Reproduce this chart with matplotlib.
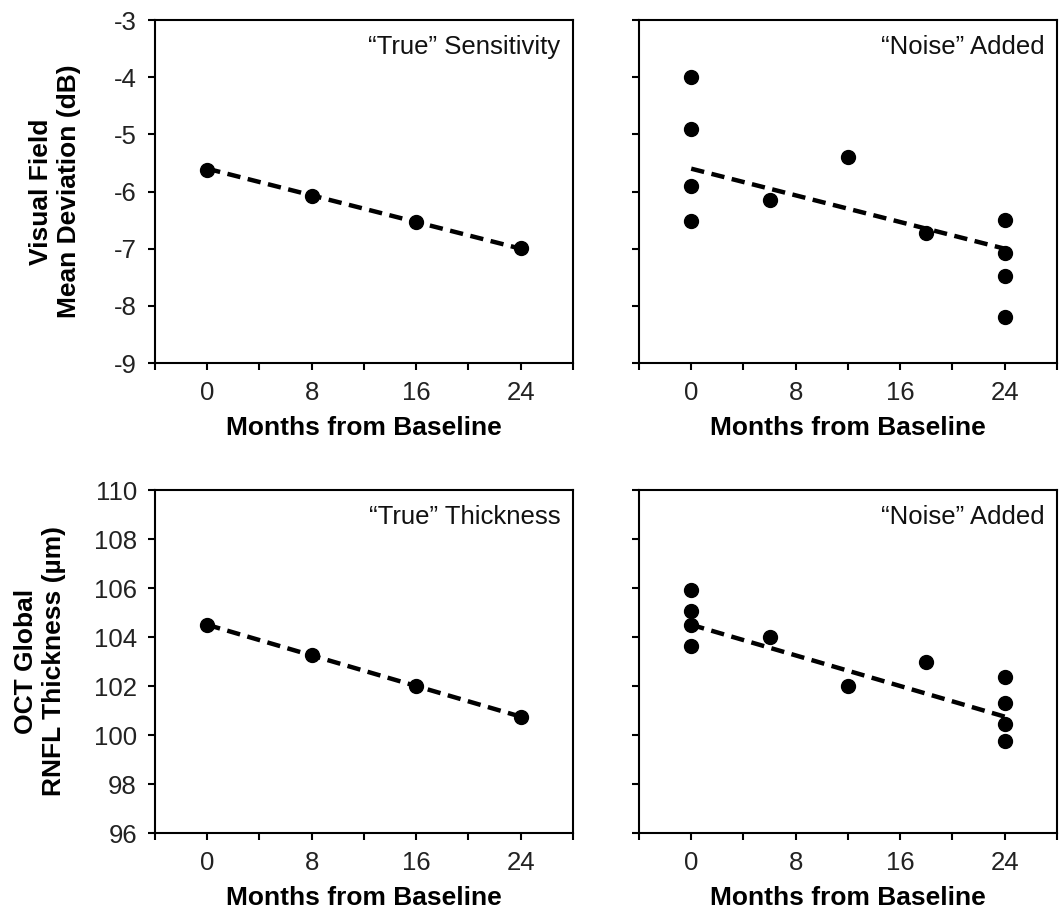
import numpy as np
import matplotlib
matplotlib.use('Agg')
import matplotlib.pyplot as plt

plt.rcParams['font.family'] = ['Liberation Sans', 'DejaVu Sans']
plt.rcParams['axes.unicode_minus'] = False

# --- data ---
true_months = [0, 8, 16, 24]
vf_true = [-5.62, -6.08, -6.53, -6.98]
rnfl_true = [104.5, 103.25, 102.0, 100.75]

noise_months = [0, 0, 0, 0, 6, 12, 18, 24, 24, 24, 24]
vf_noise = [-4.0, -4.9, -5.9, -6.52, -6.15, -5.4, -6.72, -6.5, -7.07, -7.48, -8.2]
rnfl_noise = [105.9, 105.05, 104.5, 103.62, 104.0, 102.0, 103.0, 102.35, 101.3, 100.47, 99.75]

trend_months = [0, 24]
vf_trend = [-5.6, -7.0]
rnfl_trend = [104.5, 100.75]

x_ticks = [-4, 0, 4, 8, 12, 16, 20, 24, 28]
x_labels = ['', '0', '', '8', '', '16', '', '24', '']
vf_ticks = [-3, -4, -5, -6, -7, -8, -9]
rnfl_ticks = [96, 98, 100, 102, 104, 106, 108, 110]

vf_ylabel = 'Visual Field\nMean Deviation (dB)'
rnfl_ylabel = 'OCT Global\nRNFL Thickness (µm)'
xlabel = 'Months from Baseline'


def style_axes(ax, yticks, ylim, show_ylabels):
    ax.set_xlim(-4, 28)
    ax.set_ylim(*ylim)
    ax.set_xticks(x_ticks)
    ax.set_xticklabels(x_labels)
    ax.set_yticks(yticks)
    if not show_ylabels:
        ax.set_yticklabels([])
    ax.tick_params(direction='out', length=5, width=1.5, labelsize=18.5, pad=8,
                   top=False, right=False, labelcolor='#222222')
    for sp in ax.spines.values():
        sp.set_linewidth(1.5)
    ax.set_xlabel(xlabel, fontsize=19, fontweight='bold', labelpad=8)


def draw(ax, xs, ys, tx, ty, label):
    ax.plot(tx, ty, color='black', lw=3.2, linestyle=(0, (3.0, 1.7)), zorder=2)
    ax.plot(xs, ys, 'o', color='black', markersize=10, zorder=3)
    ax.text(0.97, 0.955, label, transform=ax.transAxes, ha='right', va='top',
            fontsize=18.5, color='#111111')


fig = plt.figure(figsize=(10.6, 9.11), dpi=100)
w, h = 0.3943, 0.3765
ax1 = fig.add_axes([0.1462, 0.6015, w, h])
ax2 = fig.add_axes([0.6028, 0.6015, w, h])
ax3 = fig.add_axes([0.1462, 0.0856, w, h])
ax4 = fig.add_axes([0.6028, 0.0856, w, h])

draw(ax1, true_months, vf_true, trend_months, vf_trend, '\u201cTrue\u201d Sensitivity')
draw(ax2, noise_months, vf_noise, trend_months, vf_trend, '\u201cNoise\u201d Added')
draw(ax3, true_months, rnfl_true, trend_months, rnfl_trend, '\u201cTrue\u201d Thickness')
draw(ax4, noise_months, rnfl_noise, trend_months, rnfl_trend, '\u201cNoise\u201d Added')

style_axes(ax1, vf_ticks, (-9, -3), True)
style_axes(ax2, vf_ticks, (-9, -3), False)
style_axes(ax3, rnfl_ticks, (96, 110), True)
style_axes(ax4, rnfl_ticks, (96, 110), False)

fig.text(55 / 1060, 1 - 191.5 / 911, vf_ylabel, rotation=90, ha='center', va='center',
         multialignment='center', fontsize=19, fontweight='bold')
fig.text(40 / 1060, 1 - 661.5 / 911, rnfl_ylabel, rotation=90, ha='center', va='center',
         multialignment='center', fontsize=19, fontweight='bold')

fig.savefig('out.png', dpi=100)
